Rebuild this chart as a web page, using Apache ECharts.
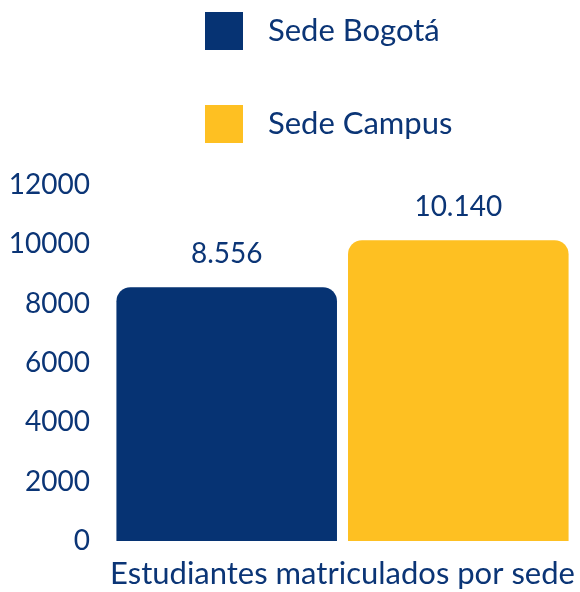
<!DOCTYPE html>
<html>
<head>
<meta charset="utf-8">
<script src="https://cdn.jsdelivr.net/npm/echarts@6/dist/echarts.min.js"></script>
<style>
  html, body { margin: 0; padding: 0; background: #fff; }
  #main { width: 580px; height: 592px; }
</style>
</head>
<body>
<div id="main"></div>
<script>
var categories = ['Estudiantes matriculados por sede']
var seriesNames = ['Sede Bogotá', 'Sede Campus']
var bogota = [8556]
var campus = [10140]
var yTicks = [0, 2000, 4000, 6000, 8000, 10000, 12000]

var navy = '#063373'
var yellow = '#FEC022'
var textColor = '#0B3576'
var font = 'Lato'

// 8556 -> "8.556"
function fmt(v) {
  return String(v).replace(/\B(?=(\d{3})+(?!\d))/g, '.')
}

var myChart = echarts.init(document.getElementById('main'))
var option = {
  textStyle: { fontFamily: font },
  legend: {
    orient: 'vertical',
    left: 205,
    top: 12,
    padding: 0,
    itemWidth: 38,
    itemHeight: 38,
    itemGap: 55,
    icon: 'rect',
    textStyle: {
      color: textColor,
      fontSize: 31,
      fontFamily: font,
      padding: [0, 0, 0, 20]
    },
    data: seriesNames
  },
  grid: {
    left: 107,
    right: 2,
    top: 185,
    bottom: 51
  },
  xAxis: {
    type: 'category',
    data: categories,
    axisLine: { show: false },
    axisTick: { show: false },
    axisLabel: {
      color: textColor,
      fontSize: 31,
      fontFamily: font,
      margin: 17
    }
  },
  yAxis: {
    type: 'value',
    min: yTicks[0],
    max: yTicks[yTicks.length - 1],
    interval: 2000,
    splitLine: { show: false },
    axisLine: { show: false },
    axisTick: { show: false },
    axisLabel: {
      color: textColor,
      fontSize: 28,
      fontFamily: font,
      margin: 17,
      formatter: function (v) { return String(v) }
    }
  },
  series: [
    {
      name: seriesNames[0],
      type: 'bar',
      data: bogota,
      barGap: '5%',
      barCategoryGap: '4%',
      itemStyle: { color: navy, borderRadius: [14, 14, 0, 0] },
      label: {
        show: true,
        position: 'top',
        distance: 19,
        color: textColor,
        fontSize: 28,
        fontFamily: font,
        formatter: function (p) { return fmt(p.value) }
      }
    },
    {
      name: seriesNames[1],
      type: 'bar',
      data: campus,
      itemStyle: { color: yellow, borderRadius: [14, 14, 0, 0] },
      label: {
        show: true,
        position: 'top',
        distance: 19,
        color: textColor,
        fontSize: 28,
        fontFamily: font,
        formatter: function (p) { return fmt(p.value) }
      }
    }
  ]
}
myChart.setOption(option)
</script>
</body>
</html>
